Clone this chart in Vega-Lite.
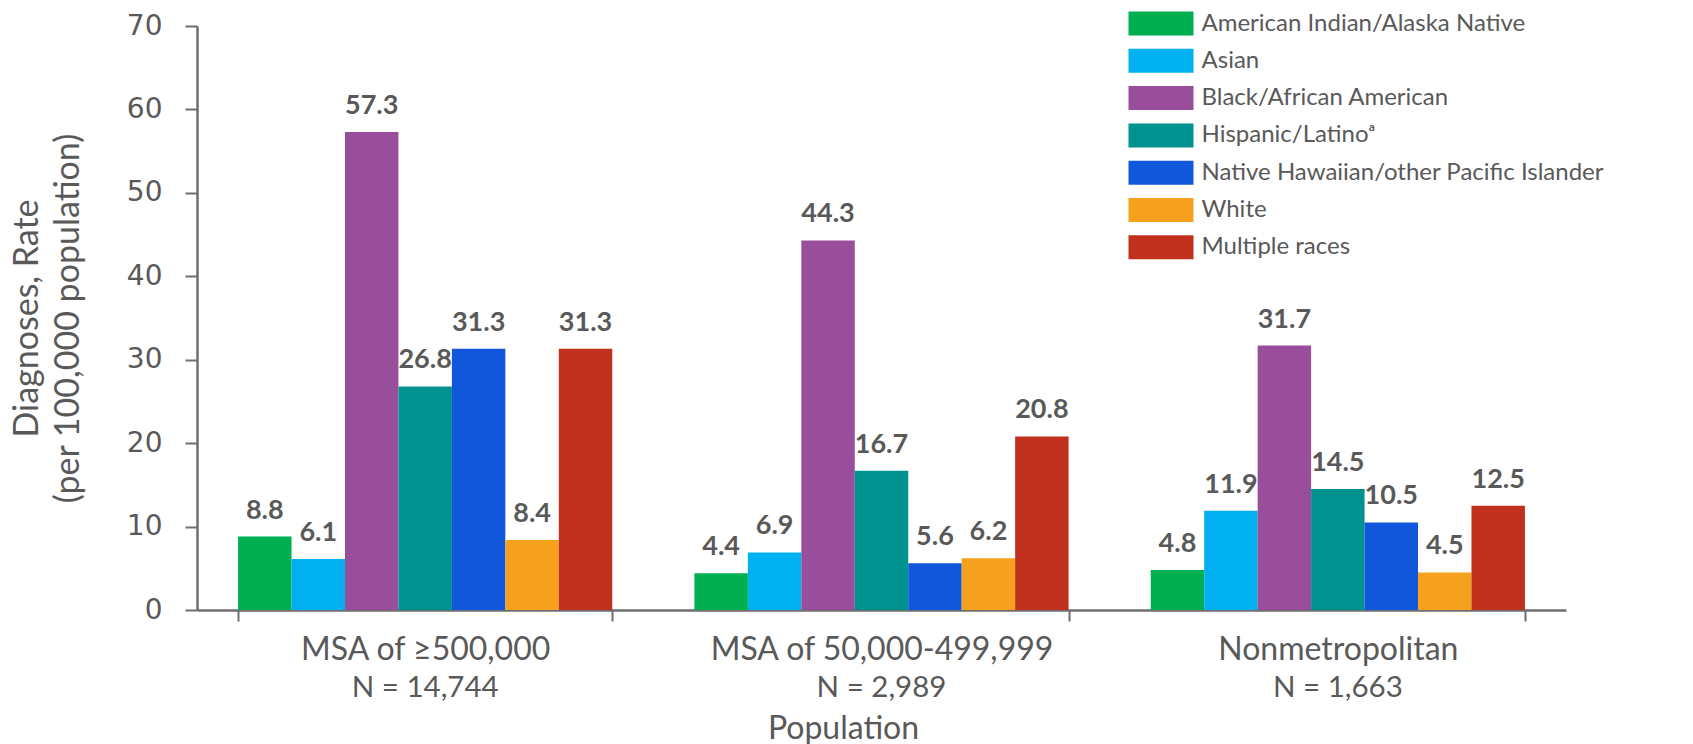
{
  "$schema": "https://vega.github.io/schema/vega-lite/v6.json",
  "width": 1369,
  "height": 584,
  "autosize": {"type": "none"},
  "padding": {"left": 197, "top": 26, "right": 127, "bottom": 134},
  "background": "white",
  "config": {
    "view": {"stroke": null},
    "axis": {"grid": false}
  },
  "data": {
    "values": [
      {"area": "MSA of ≥500,000", "race": "American Indian/Alaska Native", "rate": 8.8},
      {"area": "MSA of ≥500,000", "race": "Asian", "rate": 6.1},
      {"area": "MSA of ≥500,000", "race": "Black/African American", "rate": 57.3},
      {"area": "MSA of ≥500,000", "race": "Hispanic/Latinoᵃ", "rate": 26.8},
      {"area": "MSA of ≥500,000", "race": "Native Hawaiian/other Pacific Islander", "rate": 31.3},
      {"area": "MSA of ≥500,000", "race": "White", "rate": 8.4},
      {"area": "MSA of ≥500,000", "race": "Multiple races", "rate": 31.3},
      {"area": "MSA of 50,000-499,999", "race": "American Indian/Alaska Native", "rate": 4.4},
      {"area": "MSA of 50,000-499,999", "race": "Asian", "rate": 6.9},
      {"area": "MSA of 50,000-499,999", "race": "Black/African American", "rate": 44.3},
      {"area": "MSA of 50,000-499,999", "race": "Hispanic/Latinoᵃ", "rate": 16.7},
      {"area": "MSA of 50,000-499,999", "race": "Native Hawaiian/other Pacific Islander", "rate": 5.6},
      {"area": "MSA of 50,000-499,999", "race": "White", "rate": 6.2},
      {"area": "MSA of 50,000-499,999", "race": "Multiple races", "rate": 20.8},
      {"area": "Nonmetropolitan", "race": "American Indian/Alaska Native", "rate": 4.8},
      {"area": "Nonmetropolitan", "race": "Asian", "rate": 11.9},
      {"area": "Nonmetropolitan", "race": "Black/African American", "rate": 31.7},
      {"area": "Nonmetropolitan", "race": "Hispanic/Latinoᵃ", "rate": 14.5},
      {"area": "Nonmetropolitan", "race": "Native Hawaiian/other Pacific Islander", "rate": 10.5},
      {"area": "Nonmetropolitan", "race": "White", "rate": 4.5},
      {"area": "Nonmetropolitan", "race": "Multiple races", "rate": 12.5}
    ]
  },
  "resolve": {"axis": {"x": "independent"}},
  "layer": [
    {
      "mark": {"type": "bar"},
      "encoding": {
        "x": {
          "field": "area", "type": "nominal", "sort": null,
          "scale": {"paddingInner": 0.18, "paddingOuter": 0.09},
          "axis": {
            "orient": "bottom",
            "title": null,
            "labelAngle": 0,
            "labelLimit": 0,
            "tickBand": "extent",
            "tickSize": 11,
            "tickWidth": 2,
            "tickColor": "#6e6e6e",
            "domainColor": "#6e6e6e",
            "domainWidth": 2.5,
            "labelFont": "Lato",
            "labelFontSize": 32,
            "labelColor": "#595959",
            "labelPadding": 13,
            "labelBaseline": "top"
          }
        },
        "xOffset": {
          "field": "race", "type": "nominal",
          "sort": ["American Indian/Alaska Native", "Asian", "Black/African American", "Hispanic/Latinoᵃ", "Native Hawaiian/other Pacific Islander", "White", "Multiple races"],
          "scale": {"paddingInner": 0, "paddingOuter": 0}
        },
        "y": {
          "field": "rate", "type": "quantitative",
          "scale": {"domain": [0, 70], "nice": false},
          "axis": {
            "values": [0, 10, 20, 30, 40, 50, 60, 70],
            "title": ["Diagnoses, Rate", "(per 100,000 population)"],
            "titleFont": "Lato",
            "titleFontSize": 34,
            "titleFontWeight": "normal",
            "titleColor": "#595959",
            "titleLineHeight": 41,
            "titlePadding": 41,
            "labelFont": "DejaVu Sans",
            "labelFontSize": 28,
            "labelColor": "#595959",
            "labelPadding": 23,
            "tickSize": 12,
            "tickWidth": 2,
            "tickColor": "#6e6e6e",
            "domainColor": "#6e6e6e",
            "domainWidth": 2.5
          }
        },
        "color": {
          "field": "race", "type": "nominal",
          "sort": ["American Indian/Alaska Native", "Asian", "Black/African American", "Hispanic/Latinoᵃ", "Native Hawaiian/other Pacific Islander", "White", "Multiple races"],
          "scale": {
            "domain": ["American Indian/Alaska Native", "Asian", "Black/African American", "Hispanic/Latinoᵃ", "Native Hawaiian/other Pacific Islander", "White", "Multiple races"],
            "range": ["#00AF50", "#00B0F0", "#984E9B", "#00928E", "#1157DB", "#F5A11D", "#C0311D"]
          },
          "legend": {
            "title": null,
            "orient": "none",
            "legendX": 952,
            "legendY": -14.5,
            "symbolType": "M-2.708,-1H2.708V1H-2.708Z",
            "symbolSize": 576,
            "symbolStrokeWidth": 0,
            "labelFont": "Lato",
            "labelFontSize": 24,
            "labelColor": "#595959",
            "labelOffset": 28.5,
            "rowPadding": 13.3,
            "labelLimit": 600
          }
        }
      }
    },
    {
      "mark": {"type": "text", "font": "Lato", "fontWeight": "bold", "fontSize": 27, "color": "#595959", "baseline": "alphabetic", "dy": -18},
      "encoding": {
        "x": {
          "field": "area", "type": "nominal", "sort": null,
          "axis": {
            "orient": "bottom",
            "title": "Population",
            "titleFont": "Lato",
            "titleFontSize": 32,
            "titleFontWeight": "normal",
            "titleColor": "#595959",
            "titleX": 646,
            "titleY": 128,
            "titleBaseline": "alphabetic",
            "titleAlign": "center",
            "labelAngle": 0,
            "labelLimit": 0,
            "domain": false,
            "ticks": false,
            "tickSize": 0,
            "labelExpr": "datum.value == 'MSA of ≥500,000' ? 'N = 14,744' : datum.value == 'MSA of 50,000-499,999' ? 'N = 2,989' : 'N = 1,663'",
            "labelFont": "Lato",
            "labelFontSize": 29.5,
            "labelColor": "#595959",
            "labelPadding": 63,
            "labelBaseline": "top"
          }
        },
        "xOffset": {
          "field": "race", "type": "nominal",
          "sort": ["American Indian/Alaska Native", "Asian", "Black/African American", "Hispanic/Latinoᵃ", "Native Hawaiian/other Pacific Islander", "White", "Multiple races"]
        },
        "y": {"field": "rate", "type": "quantitative"},
        "text": {"field": "rate", "type": "quantitative", "format": ".1f"}
      }
    }
  ]
}
